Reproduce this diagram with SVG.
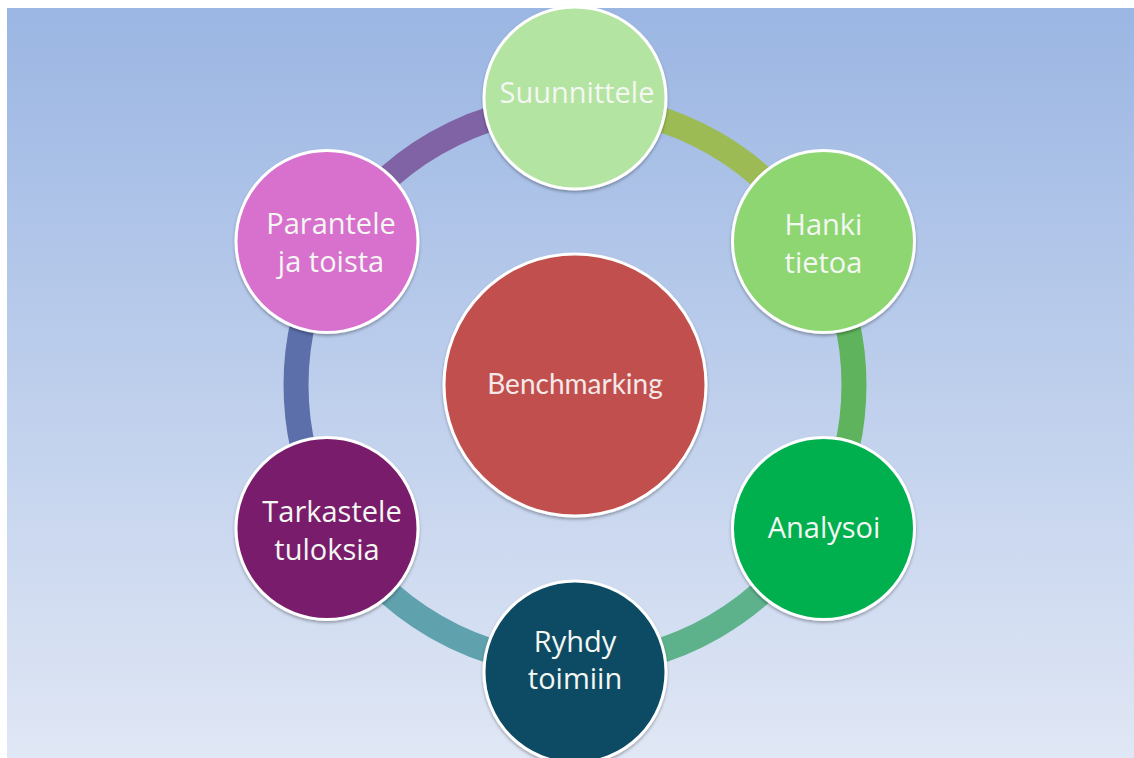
<svg xmlns="http://www.w3.org/2000/svg" width="1134" height="758" viewBox="0 0 1134 758">
  <defs>
    <linearGradient id="bg" x1="0" y1="0" x2="0" y2="1">
      <stop offset="0" stop-color="#9bb6e3"/>
      <stop offset="1" stop-color="#e0e7f5"/>
    </linearGradient>
    <filter id="sh" x="-20%" y="-20%" width="140%" height="140%">
      <feDropShadow dx="0" dy="2" stdDeviation="1.5" flood-color="#000" flood-opacity="0.3"/>
    </filter>
  </defs>
  <style>
    .arc { fill: none; stroke-width: 25; }
    .node circle { stroke: #ffffff; stroke-width: 3; filter: url(#sh); }
    .lbl { font-family: "Open Sans", "Liberation Sans", Arial, sans-serif; font-size: 29px; fill: #f4f7f2; text-anchor: middle; }
    .ctr { font-family: Lato, "Liberation Sans", sans-serif; font-size: 28px; fill: #f5e8e8; text-anchor: middle; }
  </style>
  <rect x="0" y="0" width="1134" height="758" fill="#ffffff"/>
  <rect x="7" y="8" width="1127" height="750" fill="url(#bg)"/>

  <g id="connectors">
    <path class="arc" stroke="#9cbb54" d="M575 106 A279 279 0 0 1 816.6 245.5"/>
    <path class="arc" stroke="#5fb35c" d="M816.6 245.5 A279 279 0 0 1 816.6 524.5"/>
    <path class="arc" stroke="#5db28c" d="M816.6 524.5 A279 279 0 0 1 575 664"/>
    <path class="arc" stroke="#5fa1ad" d="M575 664 A279 279 0 0 1 333.4 524.5"/>
    <path class="arc" stroke="#5c6fab" d="M333.4 524.5 A279 279 0 0 1 333.4 245.5"/>
    <path class="arc" stroke="#7f63a4" d="M333.4 245.5 A279 279 0 0 1 575 106"/>
  </g>

  <g id="benchmarking" class="node">
    <circle cx="575" cy="385" r="131" fill="#c0504d"/>
    <text class="ctr" x="575" y="394">Benchmarking</text>
  </g>

  <g id="suunnittele" class="node">
    <circle cx="575" cy="98" r="91" fill="#b3e4a1"/>
    <text class="lbl" x="577" y="103">Suunnittele</text>
  </g>

  <g id="hanki" class="node">
    <circle cx="823.5" cy="241.5" r="91" fill="#8dd672"/>
    <text class="lbl" x="823.5" y="235">Hanki</text>
    <text class="lbl" x="823.5" y="273">tietoa</text>
  </g>

  <g id="analysoi" class="node">
    <circle cx="823.5" cy="528.5" r="91" fill="#00b050"/>
    <text class="lbl" x="824" y="538">Analysoi</text>
  </g>

  <g id="ryhdy" class="node">
    <circle cx="575" cy="672" r="91" fill="#0b4b65"/>
    <text class="lbl" x="575" y="652">Ryhdy</text>
    <text class="lbl" x="575" y="689">toimiin</text>
  </g>

  <g id="tarkastele" class="node">
    <circle cx="327" cy="528.5" r="91" fill="#7a1f6c"/>
    <text class="lbl" x="332" y="522">Tarkastele</text>
    <text class="lbl" x="327" y="560">tuloksia</text>
  </g>

  <g id="parantele" class="node">
    <circle cx="327" cy="241.5" r="91" fill="#d86fcd"/>
    <text class="lbl" x="331" y="234">Parantele</text>
    <text class="lbl" x="331" y="272">ja toista</text>
  </g>
</svg>
